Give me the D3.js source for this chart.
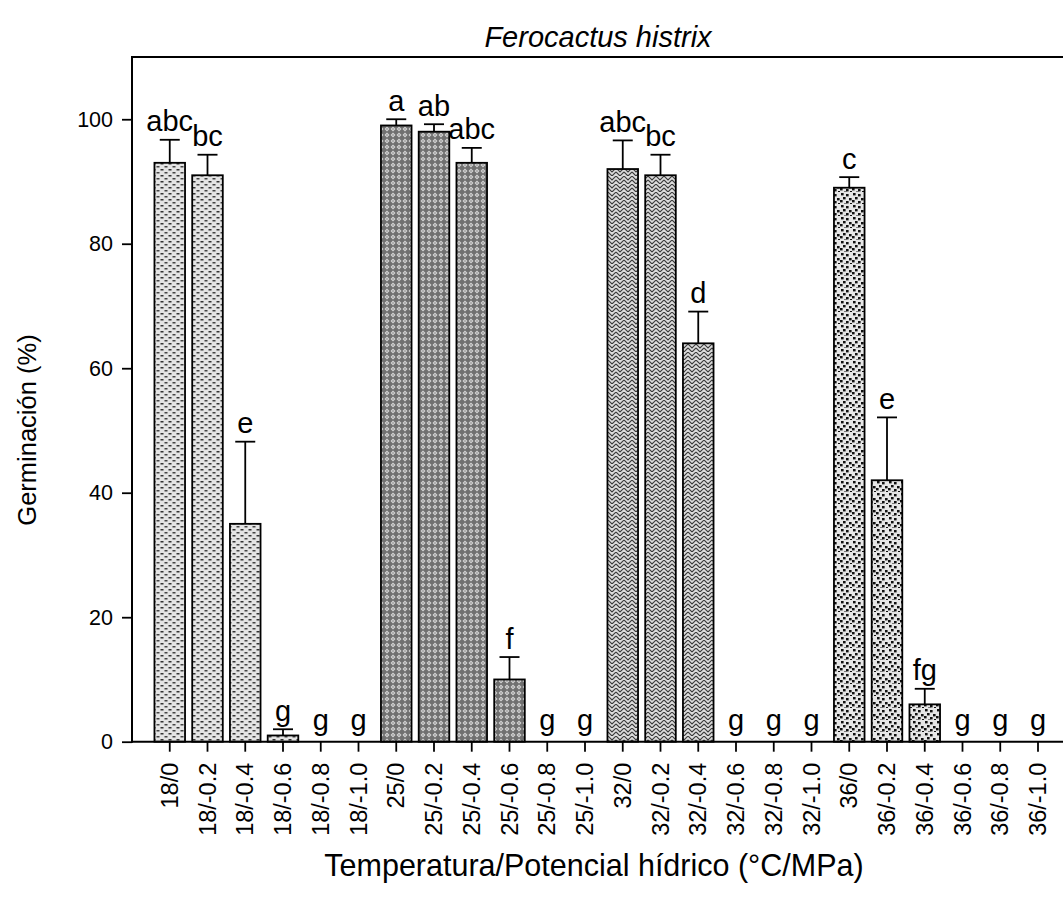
<!DOCTYPE html>
<html><head><meta charset="utf-8">
<script src="https://cdn.jsdelivr.net/npm/d3@7"></script>
<style>body{margin:0;background:#fff;} svg{display:block;} text{font-family:"Liberation Sans",Arial,sans-serif;}</style>
</head><body>
<svg id="chart" width="1063" height="906"></svg>
<script>
const categories = ["18/0","18/-0.2","18/-0.4","18/-0.6","18/-0.8","18/-1.0",
  "25/0","25/-0.2","25/-0.4","25/-0.6","25/-0.8","25/-1.0",
  "32/0","32/-0.2","32/-0.4","32/-0.6","32/-0.8","32/-1.0",
  "36/0","36/-0.2","36/-0.4","36/-0.6","36/-0.8","36/-1.0"];
const groups = ["18","18","18","18","18","18","25","25","25","25","25","25",
  "32","32","32","32","32","32","36","36","36","36","36","36"];
const germination = [93,91,35,1,0,0, 99,98,93,10,0,0, 92,91,64,0,0,0, 89,42,6,0,0,0];
const errorUp = [3.7,3.3,13.2,1,0,0, 1,1.2,2.4,3.6,0,0, 4.6,3.3,5.1,0,0,0, 1.7,10.1,2.5,0,0,0];
const letters = ["abc","bc","e","g","g","g","a","ab","abc","f","g","g",
  "abc","bc","d","g","g","g","c","e","fg","g","g","g"];
const yTicks = [0,20,40,60,80,100];

const svg = d3.select("#chart");
const mLeft = 132, mTop = 57, mBottom = 741.7, step = 37.75;

// patterns
const defs = svg.append("defs");
const p18 = defs.append("pattern").attr("id","p18").attr("patternUnits","userSpaceOnUse")
  .attr("width",8).attr("height",6);
p18.append("rect").attr("width",8).attr("height",6).attr("fill","#e4e4e4");
p18.append("rect").attr("x",0.5).attr("y",1).attr("width",3).attr("height",1.5).attr("fill","#333");
p18.append("rect").attr("x",4.5).attr("y",4).attr("width",3).attr("height",1.5).attr("fill","#444");
const p25 = defs.append("pattern").attr("id","p25").attr("patternUnits","userSpaceOnUse")
  .attr("width",6).attr("height",6);
p25.append("rect").attr("width",6).attr("height",6).attr("fill","#707070");
p25.append("path").attr("d","M3,0.5 L5.5,3 L3,5.5 L0.5,3 Z").attr("fill","#d4d4d4");
p25.append("rect").attr("x",2.3).attr("y",2.3).attr("width",1.4).attr("height",1.4).attr("fill","#8a8a8a");
const p32 = defs.append("pattern").attr("id","p32").attr("patternUnits","userSpaceOnUse")
  .attr("width",8).attr("height",8);
p32.append("rect").attr("width",8).attr("height",8).attr("fill","#dcdcdc");
p32.append("path").attr("d","M0,0 L4,4 L8,0 M0,4 L4,8 L8,4").attr("stroke","#3a3a3a").attr("stroke-width",1.1).attr("fill","none");
const p36 = defs.append("pattern").attr("id","p36").attr("patternUnits","userSpaceOnUse")
  .attr("width",12).attr("height",12);
p36.append("rect").attr("width",12).attr("height",12).attr("fill","#e6e6e6");
[[1,1],[6,2],[3,5],[9,6],[0,8],[6,9],[10,11],[4,11.5]].forEach(([a,b])=>{
  p36.append("rect").attr("x",a).attr("y",b).attr("width",2.6).attr("height",2.4).attr("fill","#111");
});

const x = d3.scaleBand().domain(categories)
  .range([mLeft + step*0.5, mLeft + step*24.5]).paddingInner(0.19).paddingOuter(0.095);
const y = d3.scaleLinear().domain([0,110]).range([mBottom, mTop]);

svg.append("line").attr("x1",mLeft).attr("x2",1063).attr("y1",mTop).attr("y2",mTop)
  .attr("stroke","#000").attr("stroke-width",2);

const g = svg.append("g");
categories.forEach((c,i)=>{
  const v = germination[i];
  if (v > 0) {
    g.append("rect").attr("x",x(c)).attr("y",y(v)).attr("width",x.bandwidth())
      .attr("height",y(0)-y(v)).attr("fill","url(#p"+groups[i]+")")
      .attr("stroke","#000").attr("stroke-width",1.8);
  }
  const cx = x(c) + x.bandwidth()/2;
  const e = errorUp[i];
  if (e > 0) {
    g.append("line").attr("x1",cx).attr("x2",cx).attr("y1",y(v)).attr("y2",y(v+e))
      .attr("stroke","#000").attr("stroke-width",1.8);
    g.append("line").attr("x1",cx-10).attr("x2",cx+10).attr("y1",y(v+e)).attr("y2",y(v+e))
      .attr("stroke","#000").attr("stroke-width",1.8);
  }
  g.append("text").attr("x",cx).attr("y",y(v+e) - (v+e > 0 ? 8.5 : 11.5)).attr("text-anchor","middle")
    .attr("font-size",29).attr("fill","#000").text(letters[i]);
});

const xAxis = svg.append("g").attr("transform",`translate(0,${mBottom})`)
  .call(d3.axisBottom(x).tickSize(10).tickSizeOuter(0));
xAxis.attr("font-family",null).attr("font-size",null);
xAxis.select(".domain").remove();
xAxis.selectAll(".tick line").attr("stroke","#000").attr("stroke-width",1.8);
xAxis.selectAll(".tick text").attr("font-size",23.5).attr("fill","#000")
  .attr("transform","rotate(-90)").attr("text-anchor","end")
  .attr("x",-21).attr("y",0).attr("dy","0.35em");
svg.append("line").attr("x1",mLeft).attr("x2",1063).attr("y1",mBottom).attr("y2",mBottom)
  .attr("stroke","#000").attr("stroke-width",2);

const yAxis = svg.append("g").attr("transform",`translate(${mLeft},0)`)
  .call(d3.axisLeft(y).tickValues(yTicks).tickSize(10).tickPadding(9).tickSizeOuter(0));
yAxis.attr("font-family",null).attr("font-size",null);
yAxis.select(".domain").remove();
yAxis.selectAll(".tick line").attr("stroke","#000").attr("stroke-width",1.8);
yAxis.selectAll(".tick text").attr("font-size",21.5).attr("fill","#000");
svg.append("line").attr("x1",mLeft).attr("x2",mLeft).attr("y1",mTop-1).attr("y2",mBottom+1)
  .attr("stroke","#000").attr("stroke-width",2);

svg.append("text").attr("x",598).attr("y",47).attr("text-anchor","middle")
  .attr("font-size",29).attr("font-style","italic").text("Ferocactus histrix");
svg.append("text").attr("transform","translate(36,430) rotate(-90)").attr("text-anchor","middle")
  .attr("font-size",25.5).text("Germinación (%)");
svg.append("text").attr("x",594).attr("y",876).attr("text-anchor","middle")
  .attr("font-size",30.5).text("Temperatura/Potencial hídrico (°C/MPa)");
</script>
</body></html>
